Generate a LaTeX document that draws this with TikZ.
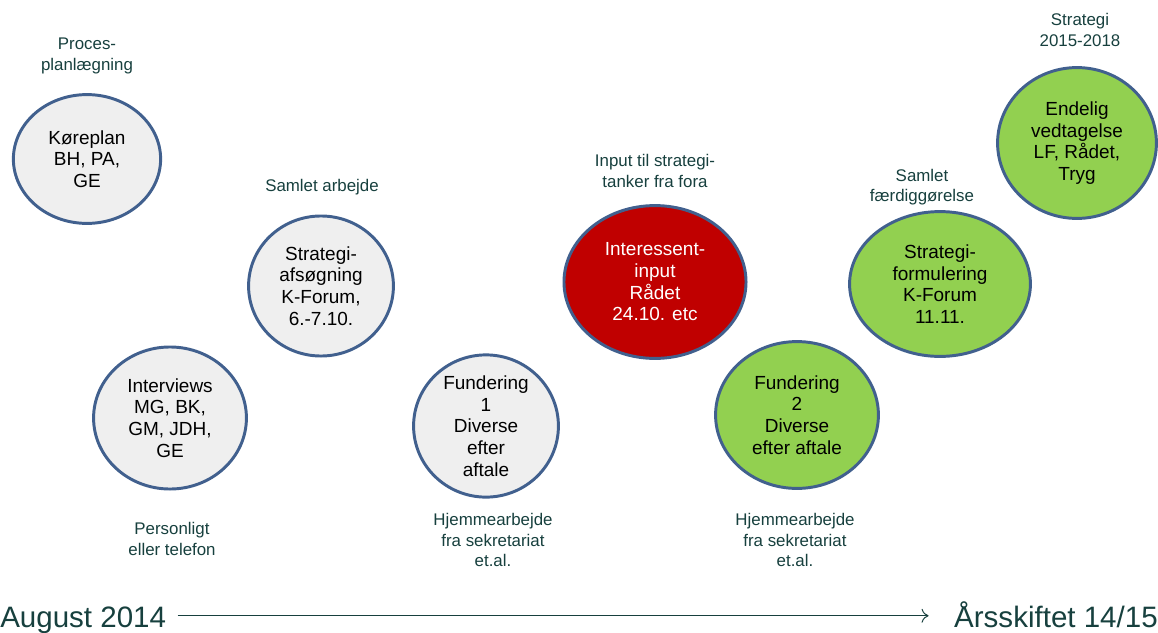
\documentclass[tikz,border=0pt]{standalone}
\usepackage{fontspec}
\setmainfont{Liberation Sans}
\usetikzlibrary{shapes.geometric,arrows.meta}
\definecolor{rim}{HTML}{41608E}
\definecolor{greyfill}{HTML}{EFEFEF}
\definecolor{greenfill}{HTML}{92D050}
\definecolor{redfill}{HTML}{C00000}
\definecolor{notetext}{HTML}{17403E}

\begin{document}
\begin{tikzpicture}[x=0.025cm,y=-0.025cm,
  every node/.style={align=center,font=\fontsize{13.5}{15.4}\selectfont},
  phase/.style={ellipse,draw=rim,line width=2.1pt,inner sep=0pt},
  greyphase/.style={phase,fill=greyfill},
  greenphase/.style={phase,fill=greenfill},
  redphase/.style={phase,fill=redfill,text=white},
  note/.style={text=notetext,font=\fontsize{12}{14.7}\selectfont},
  datelabel/.style={text=notetext,font=\fontsize{21}{24}\selectfont,
    text height=20pt,text depth=4pt,inner sep=0pt}]
\useasboundingbox (0,0) rectangle (1158,632);

% phases
\node (koereplan) [greyphase,minimum width=3.68cm,minimum height=3.22cm] at (87,159)
  {K\o{}replan\\BH, PA,\\GE};
\node (interviews) [greyphase,minimum width=3.82cm,minimum height=3.55cm] at (170,418)
  {Interviews\\MG, BK,\\GM, JDH,\\GE};
\node (afsoegning) [greyphase,minimum width=3.62cm,minimum height=3.5cm] at (321,286)
  {Strategi-\\afs\o{}gning\\K-Forum,\\6.-7.10.};
\node (fund1) [greyphase,minimum width=3.62cm,minimum height=3.47cm] at (486,426)
  {Fundering\\1\\Diverse\\efter\\aftale};
\node (interessent) [redphase,minimum width=4.55cm,minimum height=3.82cm] at (655,282)
  {Interessent-\\input\\R\aa{}det\\24.10. etc};
\node (fund2) [greenphase,minimum width=4.07cm,minimum height=3.67cm] at (797,415)
  {Fundering\\2\\Diverse\\efter aftale};
\node (formulering) [greenphase,minimum width=4.52cm,minimum height=3.62cm] at (940,284)
  {Strategi-\\formulering\\K-Forum\\11.11.};
\node (endelig) [greenphase,minimum width=3.97cm,minimum height=3.77cm] at (1077,143)
  {Endelig\\vedtagelse\\LF, R\aa{}det,\\Tryg};

% notes
\node (procesnote) [note] at (87,56) {Proces-\\planl\ae{}gning};
\node (samletnote) [note] at (322,187) {Samlet arbejde};
\node (personnote) [note] at (172,539) {Personligt\\eller telefon};
\node (hjem1note) [note] at (493,540) {Hjemmearbejde\\fra sekretariat\\et.al.};
\node (inputnote) [note] at (655,171) {Input til strategi-\\tanker fra fora};
\node (hjem2note) [note] at (795,540) {Hjemmearbejde\\fra sekretariat\\et.al.};
\node (faerdignote) [note] at (922,187) {Samlet\\f\ae{}rdigg\o{}relse};
\node (strategynote) [note] at (1080,30) {Strategi\\2015-2018};

% time line
\node (start) [datelabel,anchor=base west] at (0,627) {August 2014};
\node (finish) [datelabel,anchor=base east] at (1158,627) {\AA{}rsskiftet 14/15};
\draw [-{To[length=5pt,width=10pt]},notetext,line width=0.7pt,
  shorten <=8pt,shorten >=18pt] (start.east) -- (finish.west);
\end{tikzpicture}
\end{document}
